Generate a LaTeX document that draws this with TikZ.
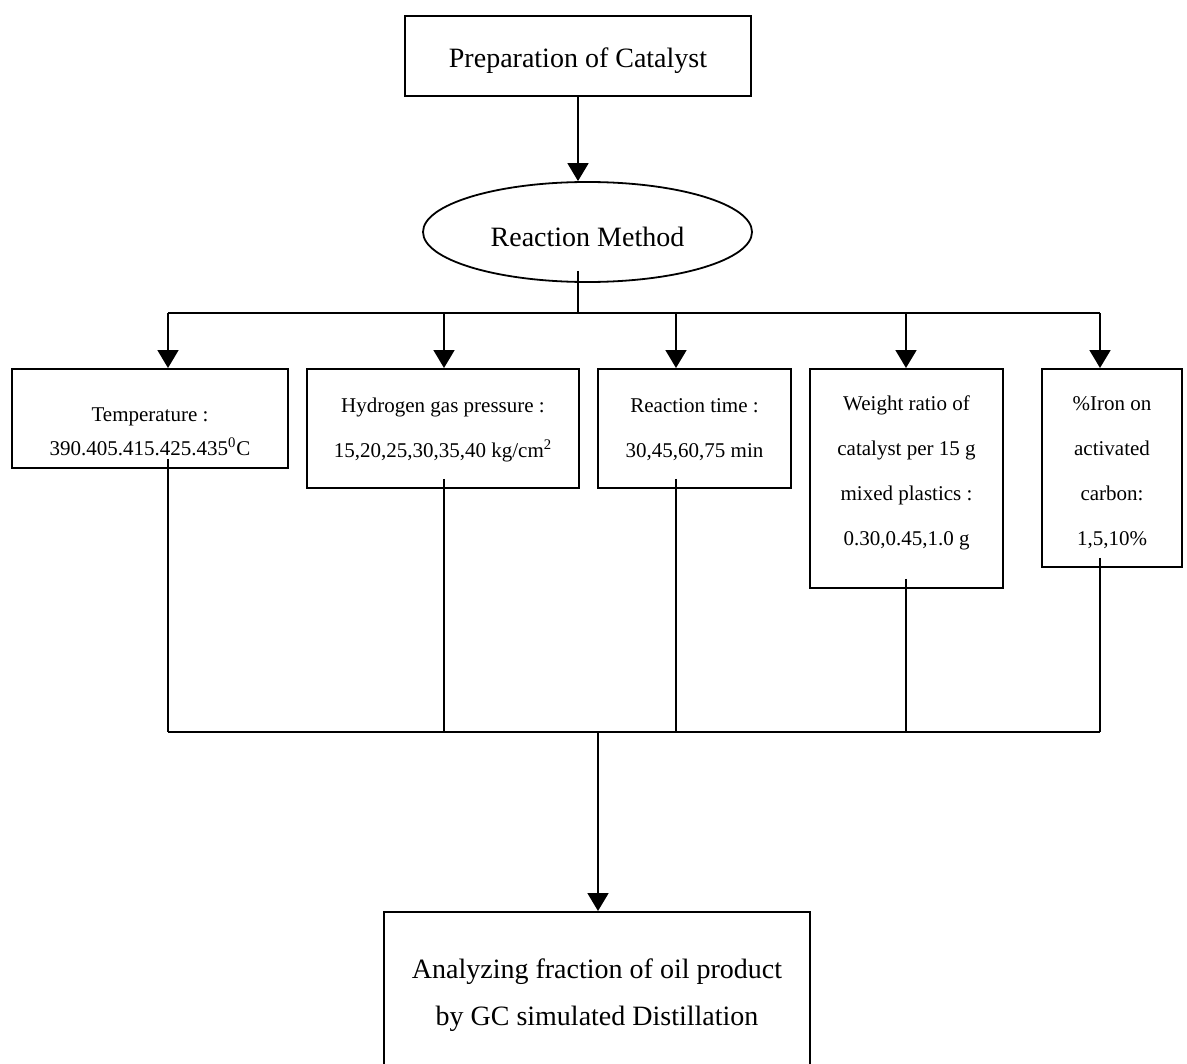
\documentclass[tikz,border=0pt]{standalone}
\usepackage{fontspec}
\setmainfont{Liberation Serif}
\usetikzlibrary{
	arrows.meta				% Triangle tips on the feed lines
	, shapes.geometric		% ellipse shape
}

\begin{document}
\begin{tikzpicture}[
		x=0.5pt, y=-0.5pt
		, line width=0.9pt
		, bigfont/.style={font=\fontsize{14}{23.5}\selectfont}
		, smallfont/.style={font=\fontsize{10.5}{22.5}\selectfont}
		, stagebox/.style={draw, rectangle, align=center, inner sep=0pt, bigfont}
		, parambox/.style={draw, rectangle, align=center, inner sep=0pt, anchor=north, smallfont}
		, feed/.style={-{Triangle[width=10.5pt,length=9pt]}}
	]
	\clip (0,0) rectangle (1187,1064);

	% Catalyst and reaction method at the top
	\node [stagebox, minimum width=173pt, minimum height=40pt, text height=15pt, text depth=3pt] (prep) at (578,56) {Preparation of Catalyst};
	\node [draw, ellipse, inner sep=0pt, minimum width=164.5pt, minimum height=50pt, text height=18pt, text depth=3pt, bigfont] (method) at (587.5,232) {Reaction Method};
	\draw [feed] (prep.south) -- (prep.south |- method.north);

	% The five reaction parameters
	\node [parambox, minimum width=138pt, text height=43.5pt, text depth=6pt, font=\fontsize{10.5}{17}\selectfont] (temp) at (150,368)
		{Temperature :\\390.405.415.425.435\textsuperscript{0}C};
	\node [parambox, minimum width=136pt, text height=44.5pt, text depth=15pt] (press) at (443,368)
		{Hydrogen gas pressure :\\15,20,25,30,35,40 kg/cm\textsuperscript{2}};
	\node [parambox, minimum width=96.5pt, text height=44.5pt, text depth=15pt] (time) at (694.5,368)
		{Reaction time :\\30,45,60,75 min};
	\node [parambox, minimum width=96.5pt, text height=88.5pt, text depth=21pt] (ratio) at (906.5,368)
		{Weight ratio of\\catalyst per 15 g\\mixed plastics :\\0.30,0.45,1.0 g};
	\node [parambox, minimum width=70pt, text height=88.5pt, text depth=10.5pt] (iron) at (1112,368)
		{\%Iron on\\activated\\carbon:\\1,5,10\%};

	% Analysis of the product at the bottom
	\node [parambox, bigfont, minimum width=213pt, text height=57pt, text depth=32.5pt] (result) at (597,911)
		{Analyzing fraction of oil product\\by GC simulated Distillation};

	% Split from the method into each parameter and gather them again
	\draw ([yshift=6pt]prep.south |- method.south) -- (578,313);
	\draw (168,313) -- (1100,313);
	\draw (168,732) -- (1100,732);
	\foreach \param/\colx in {temp/168, press/444, time/676, ratio/906, iron/1100} {
		\draw [feed] (\colx,313) -- (\colx,313 |- \param.north);
		\draw ([yshift=5pt]\colx,313 |- \param.south) -- (\colx,732);
	};
	\draw [feed] (598,732) -- (598,732 |- result.north);
\end{tikzpicture}
\end{document}
